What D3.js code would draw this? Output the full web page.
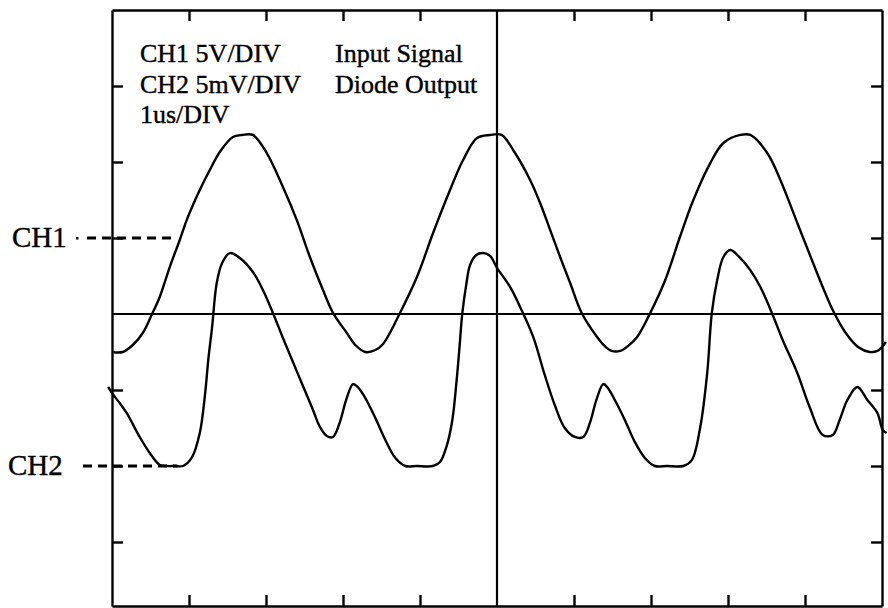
<!DOCTYPE html>
<html>
<head>
<meta charset="utf-8">
<script src="https://cdn.jsdelivr.net/npm/d3@7"></script>
<style>
    html, body { margin: 0; padding: 0; background: #fff; }
    svg { display: block; }
</style>
</head>
<body>
<script>
// time in us, CH1 in volts (5 V/div), CH2 in millivolts (5 mV/div)
const ch1Time = [0, 0.14, 0.27, 0.40, 0.52, 0.62, 0.75, 0.88, 0.97, 1.08, 1.14, 1.27, 1.40, 1.57, 1.69, 1.83,
    2.01, 2.22, 2.40, 2.57, 2.74, 2.87, 3.05, 3.16, 3.29, 3.42, 3.52, 3.74, 3.96, 4.17, 4.39, 4.56, 4.74, 4.91,
    5.06, 5.21, 5.43, 5.56, 5.69, 5.82, 5.95, 6.10, 6.30, 6.40, 6.49, 6.60, 6.70, 6.82, 6.99, 7.18, 7.38, 7.55,
    7.77, 7.94, 8.16, 8.29, 8.51, 8.68, 8.90, 9.10, 9.23, 9.36, 9.52, 9.69, 9.84, 9.94, 10.0, 10.05];
const ch1Volts = [-7.50, -7.50, -7.04, -6.25, -5.00, -3.88, -1.91, -0.13, 1.18, 2.50, 3.16, 4.47, 5.66, 6.64, 6.78, 6.78,
    5.59, 3.36, 1.18, -1.25, -3.42, -4.93, -6.25, -7.04, -7.50, -7.37, -6.97, -4.93, -2.57, 0.33, 3.16, 5.13, 6.58, 6.78,
    6.78, 5.79, 3.82, 2.30, 0.53, -1.25, -2.96, -4.93, -6.51, -7.11, -7.43, -7.43, -7.11, -6.51, -4.93, -2.83, 0.13, 2.50,
    4.93, 6.25, 6.78, 6.78, 5.59, 3.82, 0.99, -1.58, -3.22, -4.74, -6.18, -7.17, -7.50, -7.43, -7.17, -6.84];

const ch2Time = [-0.05, 0, 0.10, 0.19, 0.36, 0.49, 0.62, 0.71, 0.82, 0.92, 1.04, 1.14, 1.21, 1.25, 1.30, 1.36, 1.43,
    1.53, 1.66, 1.83, 1.96, 2.09, 2.22, 2.35, 2.48, 2.60, 2.70, 2.79, 2.87, 2.96, 3.04, 3.13, 3.19, 3.29, 3.42, 3.55,
    3.68, 3.81, 3.96, 4.17, 4.26, 4.35, 4.42, 4.47, 4.51, 4.55, 4.60, 4.65, 4.73, 4.82, 4.91, 5.00, 5.17, 5.30, 5.47,
    5.62, 5.75, 5.88, 6.01, 6.12, 6.21, 6.29, 6.38, 6.44, 6.53, 6.66, 6.79, 6.92, 7.05, 7.21, 7.42, 7.53, 7.64, 7.73,
    7.79, 7.86, 7.94, 8.03, 8.16, 8.29, 8.42, 8.57, 8.71, 8.90, 9.06, 9.23, 9.36, 9.45, 9.55, 9.68, 9.81, 9.94, 10.01, 10.06];
const ch2Millivolts = [5.20, 4.80, 4.14, 3.49, 1.91, 0.86, 0.07, 0, 0, 0, 0.59, 2.17, 4.80, 6.97, 9.14, 12.04, 13.36,
    14.01, 13.68, 12.76, 11.58, 10.07, 8.42, 6.84, 5.26, 3.82, 2.57, 1.97, 1.91, 2.89, 4.34, 5.39, 5.20, 4.47, 3.16, 1.71,
    0.53, 0, 0, 0, 0.26, 1.38, 3.03, 5.33, 7.63, 10.07, 11.91, 13.22, 13.88, 14.01, 13.82, 13.03, 11.78, 10.46, 8.49,
    5.99, 4.01, 2.50, 1.91, 1.91, 2.89, 4.34, 5.39, 5.13, 4.34, 3.03, 1.58, 0.53, 0, 0, 0, 0.39, 2.57, 6.12,
    10.07, 12.24, 13.75, 14.21, 13.68, 12.89, 11.78, 10.07, 8.29, 6.12, 3.88, 2.04, 2.04, 3.03, 4.34, 5.20, 4.34, 3.49, 2.37, 2.17];

const xTicks = [1, 2, 3, 4, 6, 7, 8, 9];
const yTicks = [-3, -2, -1, 1, 2, 3];
const settingsLines = ['CH1 5V/DIV', 'CH2 5mV/DIV', '1us/DIV'];
const signalLines = ['Input Signal', 'Diode Output'];

const ch1 = { name: 'CH1', perDiv: 5, ground: 1 };
const ch2 = { name: 'CH2', perDiv: 5, ground: -2 };

const width = 888, height = 608;
const serif = '"Liberation Serif", "Times New Roman", serif';

const x = d3.scaleLinear().domain([0, 10]).range([112, 882]);
// the last division of the scan is squeezed a little
const y = d3.scaleLinear().domain([-4, -3, 3, 4]).range([606, 542, 86, 10]);

const svg = d3.select('body').append('svg')
    .attr('width', width).attr('height', height)
    .attr('viewBox', `0 0 ${width} ${height}`);

svg.append('rect').attr('width', width).attr('height', height).attr('fill', '#fff');

function frame(svg) {
    const g = svg.append('g').attr('class', 'frame');
    const top = d3.axisBottom(x).tickValues(xTicks).tickSizeInner(11).tickSizeOuter(0).tickFormat('');
    const bottom = d3.axisTop(x).tickValues(xTicks).tickSizeInner(11).tickSizeOuter(0).tickFormat('');
    const left = d3.axisRight(y).tickValues(yTicks).tickSizeInner(11).tickSizeOuter(0).tickFormat('');
    const right = d3.axisLeft(y).tickValues(yTicks).tickSizeInner(11).tickSizeOuter(0).tickFormat('');

    g.append('g').attr('transform', `translate(0,${y(4)})`).call(top);
    g.append('g').attr('transform', `translate(0,${y(-4)})`).call(bottom);
    g.append('g').attr('transform', `translate(${x(0)},0)`).call(left);
    g.append('g').attr('transform', `translate(${x(10)},0)`).call(right);

    g.selectAll('.domain').attr('stroke', '#000').attr('stroke-width', 2.4);
    g.selectAll('.tick line').attr('stroke', '#000').attr('stroke-width', 2.4);

    // centre graticule lines
    g.append('line')
        .attr('x1', x(5)).attr('x2', x(5)).attr('y1', y(4)).attr('y2', y(-4))
        .attr('stroke', '#000').attr('stroke-width', 2.2);
    g.append('line')
        .attr('x1', x(0)).attr('x2', x(10)).attr('y1', y(0)).attr('y2', y(0))
        .attr('stroke', '#000').attr('stroke-width', 2.2);
}

function trace(svg, ch, times, values) {
    const data = times.map((t, i) => [t, values[i]]);
    const line = d3.line()
        .x(d => x(d[0]))
        .y(d => y(d[1] / ch.perDiv + ch.ground))
        .curve(d3.curveCatmullRom.alpha(0.5));
    svg.append('path')
        .datum(data)
        .attr('d', line)
        .attr('fill', 'none')
        .attr('stroke', '#000')
        .attr('stroke-width', 2.4)
        .attr('stroke-linejoin', 'round');
}

function groundMarker(svg, ch, labelX, dot, endT) {
    const gy = y(ch.ground);
    svg.append('text')
        .attr('x', labelX).attr('y', gy + 9)
        .attr('font-family', serif)
        .attr('font-size', 29)
        .attr('fill', '#000').attr('stroke', '#000').attr('stroke-width', 0.4)
        .text(ch.name);
    if (dot)
        svg.append('rect').attr('x', 76).attr('y', gy - 1).attr('width', 2.5).attr('height', 2.5).attr('fill', '#000');
    svg.append('line')
        .attr('x1', dot ? 87 : 83).attr('x2', x(endT))
        .attr('y1', gy).attr('y2', gy)
        .attr('stroke', '#000').attr('stroke-width', 3)
        .attr('stroke-dasharray', '9,6');
}

function legend(svg) {
    const g = svg.append('g')
        .attr('font-family', serif)
        .attr('font-size', 26)
        .attr('fill', '#000').attr('stroke', '#000').attr('stroke-width', 0.4);
    g.selectAll('text.settings').data(settingsLines).enter().append('text')
        .attr('class', 'settings')
        .attr('x', 140).attr('y', (d, i) => 62 + i * 30.5)
        .text(d => d);
    g.selectAll('text.signal').data(signalLines).enter().append('text')
        .attr('class', 'signal')
        .attr('x', 335).attr('y', (d, i) => 62 + i * 30.5)
        .text(d => d);
}

frame(svg);
trace(svg, ch1, ch1Time, ch1Volts);
trace(svg, ch2, ch2Time, ch2Millivolts);
groundMarker(svg, ch1, 12, true, 0.82);
groundMarker(svg, ch2, 8, false, 0.85);
legend(svg);
</script>
</body>
</html>
